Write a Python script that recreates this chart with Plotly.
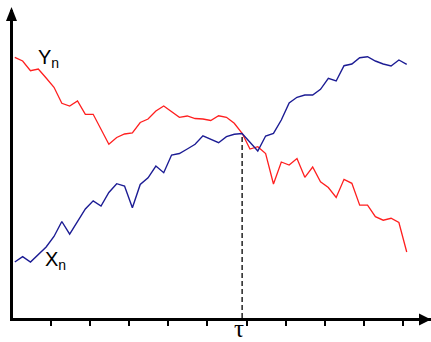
import plotly.graph_objects as go

# ---- data (heights above the time axis) ----
time_index = list(range(51))
y_series = [260.7, 257, 247.3, 249, 240, 230.7, 214.7, 212, 217, 203.7, 203.7, 189, 173.7,
            180.5, 184, 185, 195.5, 199, 207, 212, 206.5, 200.7, 202, 199.5, 199, 197.5,
            202.2, 200.7, 194.7, 184.7, 169, 171.3, 164.5, 134, 156, 153, 159.5, 140.7,
            151, 136.3, 130.5, 120.5, 138.7, 134.7, 112.8, 112.8, 101.3, 97.8, 99.7, 95.5, 66]
x_series = [56, 61.3, 56, 63, 71, 81.5, 96.5, 83.8, 96.3, 109, 117.2, 112, 125.5, 134.3,
            132, 110.2, 133.5, 140.2, 152, 145.3, 163, 164.5, 169, 173.7, 182.2, 178.5,
            175.3, 181.3, 183.7, 184.5, 175.7, 167, 182, 184.7, 198, 215, 220.7, 223, 223,
            228.7, 239.7, 237, 252.3, 254, 260.3, 261.3, 257, 254, 252, 258, 253.7]
tau = 29
tick_steps = [5 * k - 0.42 for k in range(1, 11)]
series_labels = ["Y<sub>n</sub>", "X<sub>n</sub>"]
tau_label = "τ"

# ---- layout geometry (pixels) ----
W, H = 431, 342
L, R, T, B = 12.5, 431, 10, 318
PW, PH = R - L, B - T
X0PIX, DX = 14.3, 7.848


def xp(px):
    return (px - L) / PW


def yp(py):
    return (B - py) / PH


RED = "#ff1f1f"
BLUE = "#1c1c94"

fig = go.Figure()
fig.add_trace(go.Scatter(x=time_index, y=y_series, mode="lines",
                         line=dict(color=RED, width=1.3), hoverinfo="skip"))
fig.add_trace(go.Scatter(x=time_index, y=x_series, mode="lines",
                         line=dict(color=BLUE, width=1.4), hoverinfo="skip"))

# dashed marker at tau
fig.add_shape(type="line", x0=tau, x1=tau, y0=0, y1=x_series[tau], xref="x", yref="y",
              line=dict(color="black", width=1.3, dash="5px,3px"), layer="below")

# arrow heads on the axes
fig.add_shape(type="path", xref="paper", yref="paper",
              path=f"M {xp(11)} {yp(7)} L {xp(5.5)} {yp(21)} L {xp(16.5)} {yp(21)} Z",
              fillcolor="black", line=dict(color="black", width=0))
fig.add_shape(type="path", xref="paper", yref="paper",
              path=f"M {xp(431)} {yp(319.5)} L {xp(419)} {yp(313.5)} L {xp(419)} {yp(325.5)} Z",
              fillcolor="black", line=dict(color="black", width=0))

fig.add_annotation(text=series_labels[0], xref="paper", yref="paper", x=xp(35.5), y=yp(44),
                   xanchor="left", yanchor="top", showarrow=False,
                   font=dict(family="Liberation Sans, Arial", size=20, color="black"))
fig.add_annotation(text=series_labels[1], xref="paper", yref="paper", x=xp(43), y=yp(246),
                   xanchor="left", yanchor="top", showarrow=False,
                   font=dict(family="Liberation Sans, Arial", size=20, color="black"))
fig.add_annotation(text=tau_label, xref="paper", yref="paper", x=xp(238.5), y=yp(343),
                   xanchor="center", yanchor="bottom", showarrow=False, borderpad=0,
                   font=dict(family="Liberation Serif, serif", size=25, color="black"))

fig.update_layout(
    width=W, height=H,
    margin=dict(l=L, r=W - R, t=T, b=H - B, pad=0),
    paper_bgcolor="white", plot_bgcolor="white",
    showlegend=False, hovermode=False,
    xaxis=dict(range=[(L - X0PIX) / DX, (R - X0PIX) / DX], showgrid=False, zeroline=False,
               showline=True, linecolor="black", linewidth=3,
               ticks="outside", tickvals=tick_steps, ticklen=5, tickwidth=2,
               tickcolor="black", showticklabels=False, fixedrange=True),
    yaxis=dict(range=[0, PH], showgrid=False, zeroline=False,
               showline=True, linecolor="black", linewidth=3,
               ticks="", showticklabels=False, fixedrange=True),
)

fig.write_html("out.html", config={"displayModeBar": False, "staticPlot": True},
               post_script="document.body.style.margin='0';document.body.style.overflow='hidden';")
